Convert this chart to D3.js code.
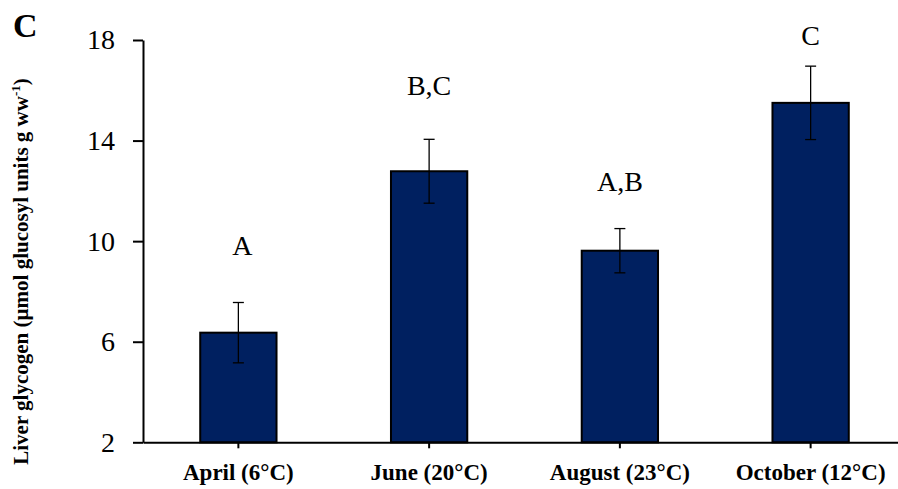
<!DOCTYPE html>
<html>
<head>
<meta charset="utf-8">
<script src="https://cdn.jsdelivr.net/npm/d3@7"></script>
<style>
  html, body { margin: 0; padding: 0; background: #fff; }
  svg { display: block; }
</style>
</head>
<body>
<svg id="chart" width="898" height="489"></svg>
<script>
// Liver glycogen by sampling month (mean ± error)
const months = ["April (6°C)", "June (20°C)", "August (23°C)", "October (12°C)"];
const glycogen = [6.36, 12.78, 9.62, 15.5];
const glycogenErr = [1.2, 1.27, 0.88, 1.46];
// Significance-group letters and the level (in axis units) where each sits
const groupLetters = ["A", "B,C", "A,B", "C"];
const letterLevel = [9.44, 15.8, 11.99, 17.79];
const yTicks = [2, 6, 10, 14, 18];

const svg = d3.select("#chart");
const serif = "'Liberation Serif', 'Times New Roman', serif";

const plotLeft = 143, plotTop = 40, plotBottom = 442.3;

const x = d3.scaleBand()
  .domain(months)
  .range([plotLeft, 906])
  .paddingInner(0.6)
  .paddingOuter(0.3);

const y = d3.scaleLinear()
  .domain([2, 18])
  .range([plotBottom, plotTop]);

// Bars
svg.append("g")
  .selectAll("rect")
  .data(months)
  .join("rect")
  .attr("x", d => x(d))
  .attr("y", (d, i) => y(glycogen[i]))
  .attr("width", x.bandwidth())
  .attr("height", (d, i) => y(2) - y(glycogen[i]))
  .attr("fill", "#002060")
  .attr("stroke", "#000")
  .attr("stroke-width", 2);

// Error bars
const capHalf = 5.5;
const err = svg.append("g").attr("stroke", "#000").attr("stroke-width", 1.3);
months.forEach((m, i) => {
  const cx = x(m) + x.bandwidth() / 2;
  const hi = y(glycogen[i] + glycogenErr[i]);
  const lo = y(glycogen[i] - glycogenErr[i]);
  err.append("line").attr("x1", cx).attr("x2", cx).attr("y1", hi).attr("y2", lo);
  err.append("line").attr("x1", cx - capHalf).attr("x2", cx + capHalf).attr("y1", hi).attr("y2", hi);
  err.append("line").attr("x1", cx - capHalf).attr("x2", cx + capHalf).attr("y1", lo).attr("y2", lo);
});

// Group letters
svg.append("g")
  .selectAll("text")
  .data(groupLetters)
  .join("text")
  .attr("x", (d, i) => x(months[i]) + x.bandwidth() / 2 + (i === 0 ? 4 : 0))
  .attr("y", (d, i) => y(letterLevel[i]))
  .attr("text-anchor", "middle")
  .attr("font-family", serif)
  .attr("font-size", 28)
  .attr("fill", "#000")
  .text(d => d);

// Y axis
const yAxis = svg.append("g")
  .attr("transform", `translate(${plotLeft},0)`)
  .call(d3.axisLeft(y).tickValues(yTicks).tickSize(10).tickSizeOuter(0).tickPadding(18));
yAxis.select(".domain").attr("stroke", "#000").attr("stroke-width", 2);
yAxis.selectAll(".tick line").attr("stroke", "#000").attr("stroke-width", 2);
yAxis.selectAll(".tick text")
  .attr("font-family", serif)
  .attr("font-size", 28)
  .attr("fill", "#000");

// X axis
const xAxis = svg.append("g")
  .attr("transform", `translate(0,${plotBottom})`)
  .call(d3.axisBottom(x).tickSize(6).tickSizeOuter(0));
xAxis.select(".domain").attr("stroke", "#000").attr("stroke-width", 2);
xAxis.selectAll(".tick line").attr("stroke", "#000").attr("stroke-width", 2);
xAxis.selectAll(".tick text")
  .attr("y", 38)
  .attr("dy", 0)
  .attr("font-family", serif)
  .attr("font-weight", "bold")
  .attr("font-size", 23)
  .attr("fill", "#000");

// Y axis title
const yTitle = svg.append("text")
  .attr("transform", "translate(28,271.5) rotate(-90)")
  .attr("text-anchor", "middle")
  .attr("font-family", serif)
  .attr("font-weight", "bold")
  .attr("font-size", 21)
  .attr("fill", "#000");
yTitle.append("tspan").text("Liver glycogen (µmol glucosyl units g ww");
yTitle.append("tspan").attr("font-size", 13).attr("dy", -8).text("-1");
yTitle.append("tspan").attr("dy", 8).text(")");

// Panel letter
svg.append("text")
  .attr("x", 13)
  .attr("y", 37)
  .attr("font-family", serif)
  .attr("font-weight", "bold")
  .attr("font-size", 34)
  .attr("fill", "#000")
  .text("C");
</script>
</body>
</html>
